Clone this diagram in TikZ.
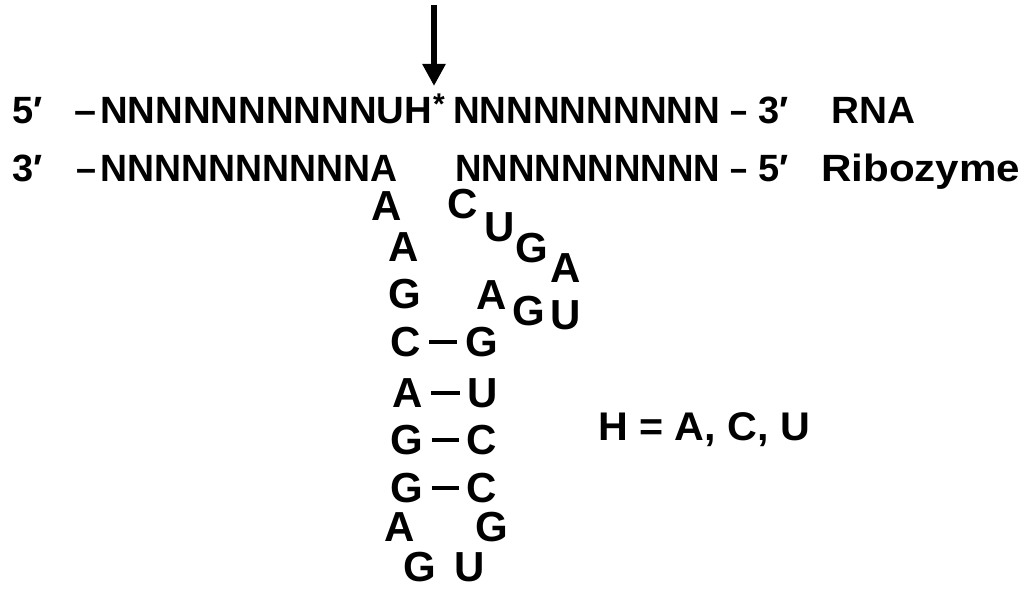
\documentclass[tikz,border=0pt]{standalone}
\usepackage{fontspec}
\setmainfont{Liberation Sans}
\usetikzlibrary{arrows.meta}
% stretch a piece of text to a given width, keeping its height
\newcommand{\fitw}[2]{\resizebox{#1}{\height}{#2}}

\begin{document}
\begin{tikzpicture}[x=1pt,y=-1pt,
  seq/.style={inner sep=0pt, anchor=base west, font=\fontsize{38}{40}\selectfont\bfseries},
  nt/.style={inner sep=0pt, font=\fontsize{42}{44}\selectfont\bfseries},
  pairline/.style={line width=3.5pt, shorten <=8pt, shorten >=8pt},
  cutarrow/.style={line width=5.5pt, -{Triangle[length=22pt,width=22pt]}}]
\useasboundingbox (0,0) rectangle (1024,591);

% cleavage site arrow
\coordinate (arrtop) at (434,5);
\coordinate (arrtip) at (434,86);
\draw[cutarrow] (arrtop) -- (arrtip);

% substrate RNA strand
\node[seq] (r5) at (12,124) {5′};
\node[seq] (rd1) at (74,124) {\fitw{22pt}{–}};
\node[seq] (rl) at (100,124) {\fitw{332pt}{NNNNNNNNNNUH}};
\node[inner sep=0pt, font=\fontsize{30}{30}\selectfont\bfseries] (star) at (439,104) {*};
\node[seq] (rr) at (453,124) {\fitw{267pt}{NNNNNNNNNN}};
\node[seq] (rd2) at (730,124) {\fitw{17pt}{–}};
\node[seq] (r3) at (758,124) {3′};
\node[seq] (rna) at (831,124) {\fitw{84pt}{RNA}};

% ribozyme binding arms
\node[seq] (z3) at (12,181) {3′};
\node[seq] (zd1) at (76,181) {\fitw{20pt}{–}};
\node[seq] (zl) at (100,181) {\fitw{297pt}{NNNNNNNNNNA}};
\node[seq] (zr) at (455,181) {\fitw{265pt}{NNNNNNNNNN}};
\node[seq] (zd2) at (730,181) {\fitw{17pt}{–}};
\node[seq] (z5) at (758,181) {5′};
\node[seq] (ribo) at (821,181) {\fitw{199pt}{Ribozyme}};

% catalytic core, left side
\node[nt] (a1) at (387,206) {A};
\node[nt] (a2) at (404,247) {A};
\node[nt] (g1) at (405,294) {G};
\node[nt] (c1) at (406,342) {C};
\node[nt] (a3) at (408,393) {A};
\node[nt] (g2) at (407,440) {G};
\node[nt] (g3) at (407,488) {G};
\node[nt] (a4) at (400,527) {A};
\node[nt] (g4) at (420,567) {G};

% catalytic core, right side
\node[nt] (c2) at (463,204) {C};
\node[nt] (u1) at (500,227) {U};
\node[nt] (g5) at (532,248) {G};
\node[nt] (a5) at (566,268) {A};
\node[nt] (u2) at (566,315) {U};
\node[nt] (g6) at (529,311) {G};
\node[nt] (a6) at (492,295) {A};
\node[nt] (g7) at (482,342) {G};
\node[nt] (u3) at (483,393) {U};
\node[nt] (c3) at (482,440) {C};
\node[nt] (c4) at (482,488) {C};
\node[nt] (g8) at (492,527) {G};
\node[nt] (u4) at (470,567) {U};

% stem base pairs
\draw[pairline] (c1.east) -- (c1.east -| g7.west);
\draw[pairline] (a3.east) -- (a3.east -| u3.west);
\draw[pairline] (g2.east) -- (g2.east -| c3.west);
\draw[pairline] (g3.east) -- (g3.east -| c4.west);

% legend
\node[nt, font=\fontsize{40}{42}\selectfont\bfseries] (legend) at (704,430) {\fitw{212pt}{H = A, C, U}};
\end{tikzpicture}
\end{document}
